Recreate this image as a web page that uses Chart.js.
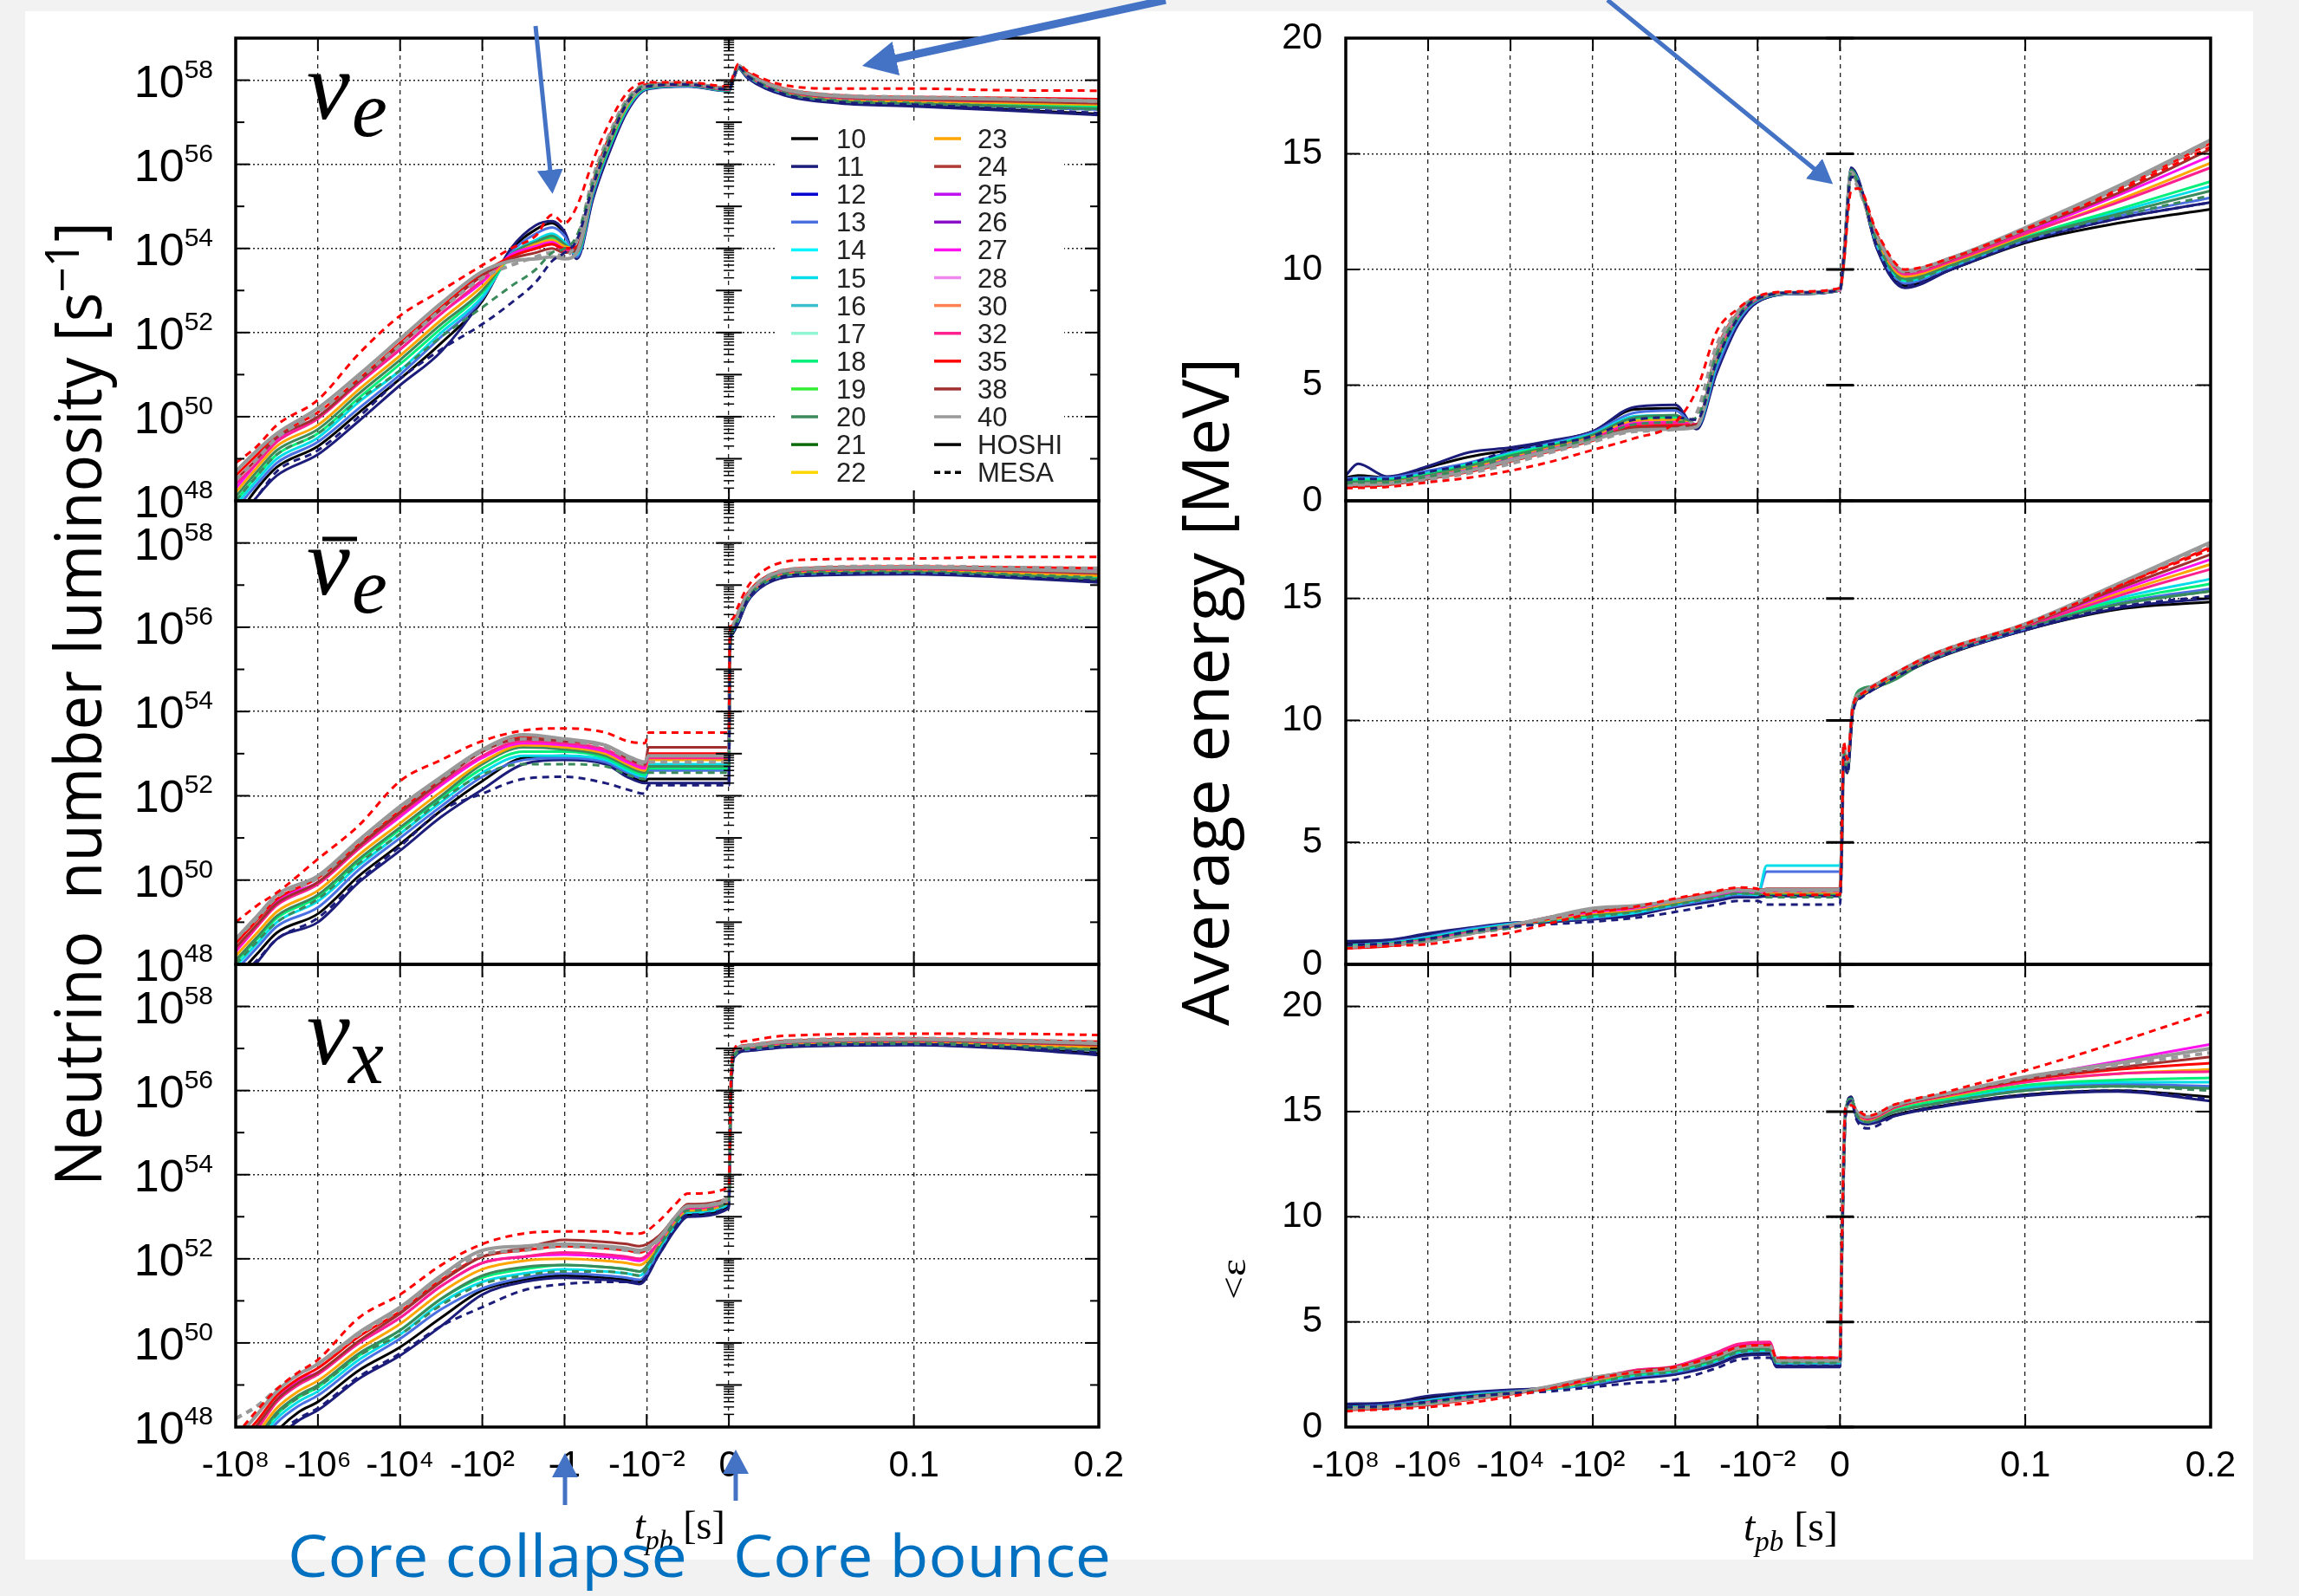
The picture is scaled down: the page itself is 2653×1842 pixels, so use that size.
<!DOCTYPE html>
<html>
<head>
<meta charset="utf-8">
<script src="https://cdn.jsdelivr.net/npm/chart.js@4.4.1/dist/chart.umd.min.js"></script>
<style>
html, body { margin: 0; padding: 0; background: #f2f2f2; overflow: hidden; }
#page { position: relative; width: 2653px; height: 1842px; overflow: hidden; }
#sheet { position: absolute; left: 29px; top: 13px; width: 2571px; height: 1787px; background: #fff; }
canvas { position: absolute; }
#ov { position: absolute; left: 0; top: 0; pointer-events: none; }
</style>
</head>
<body>
<div id="page">
  <div id="sheet"></div>
  <canvas id="c0"></canvas><canvas id="c1"></canvas><canvas id="c2"></canvas>
  <canvas id="c3"></canvas><canvas id="c4"></canvas><canvas id="c5"></canvas>
  <svg id="ov" width="2653" height="1842" xmlns="http://www.w3.org/2000/svg">
    <defs>
      <marker id="ah" markerUnits="userSpaceOnUse" markerWidth="28" markerHeight="30" refX="2" refY="15" orient="auto">
        <path d="M0,0 L28,15 L0,30 Z" fill="#4472C4"/>
      </marker>
      <marker id="ahBig" markerUnits="userSpaceOnUse" markerWidth="40" markerHeight="40" refX="2" refY="20" orient="auto">
        <path d="M0,0 L40,20 L0,40 Z" fill="#4472C4"/>
      </marker>
    </defs>
    <g id="legend"></g>

    <!-- neutrino flavour labels -->
    <g font-family="Liberation Serif, DejaVu Serif, serif" font-style="italic" fill="#000">
      <text x="354" y="137" font-size="112">ν</text>
      <text x="406" y="157" font-size="92">e</text>
      <line x1="372" y1="622" x2="412" y2="622" stroke="#000" stroke-width="5"/>
      <text x="354" y="686" font-size="112">ν</text>
      <text x="406" y="707" font-size="92">e</text>
      <text x="354" y="1228" font-size="112">ν</text>
      <text x="402" y="1250" font-size="92">x</text>
    </g>

    <!-- axis titles -->
    <text transform="translate(117,1369) rotate(-90)" font-family="Open Sans, DejaVu Sans, sans-serif" font-size="75"
          textLength="1113" lengthAdjust="spacingAndGlyphs" style="white-space:pre">Neutrino  number luminosity [s<tspan dy="-26" font-size="54">−1</tspan><tspan dy="26">]</tspan></text>
    <text transform="translate(1418,1184) rotate(-90)" font-family="Open Sans, DejaVu Sans, sans-serif" font-size="75"
          textLength="771" lengthAdjust="spacingAndGlyphs">Average energy [MeV]</text>
    <text transform="translate(1437,1500) rotate(-90)" font-family="Liberation Serif, serif" font-size="40"
          textLength="47" lengthAdjust="spacingAndGlyphs">&lt;ε</text>

    <g font-family="Liberation Serif, Times New Roman, serif" fill="#000">
      <text x="732" y="1776" font-size="46"><tspan font-style="italic">t</tspan><tspan font-style="italic" font-size="32" dy="12">pb</tspan><tspan dy="-12"> [s]</tspan></text>
      <text x="2012" y="1778" font-size="48"><tspan font-style="italic">t</tspan><tspan font-style="italic" font-size="33" dy="12">pb</tspan><tspan dy="-12"> [s]</tspan></text>
    </g>

    <!-- annotations -->
    <g stroke="#4472C4" fill="none">
      <line x1="618" y1="30" x2="635" y2="198" stroke-width="5" marker-end="url(#ah)"/>
      <line x1="1345" y1="0" x2="1032" y2="68" stroke-width="9" marker-end="url(#ahBig)"/>
      <line x1="1855" y1="0" x2="2095" y2="196" stroke-width="5" marker-end="url(#ah)"/>
      <line x1="652" y1="1737" x2="652" y2="1703" stroke-width="5" marker-end="url(#ah)"/>
      <line x1="849" y1="1732" x2="849" y2="1699" stroke-width="5" marker-end="url(#ah)"/>
    </g>
    <g font-family="Open Sans, Noto Sans, sans-serif" font-size="68" fill="#0070C0">
      <text x="332" y="1820" textLength="461" lengthAdjust="spacingAndGlyphs">Core collapse</text>
      <text x="846" y="1820" textLength="436" lengthAdjust="spacingAndGlyphs">Core bounce</text>
    </g>
  </svg>
</div>
<script>
// ---- models and legend ----
const MODELS = [10, 11, 12, 13, 14, 15, 16, 17, 18, 19, 20, 21, 22, 23, 24, 25, 26, 27, 28, 30, 32, 35, 38, 40];
const MODEL_COLORS = ['#000000', '#1c1c7a', '#0000d0', '#4a6fe0', '#00f5ff', '#00dde8', '#3cbfcc', '#8ff5d2',
  '#00f07a', '#33ee33', '#3a8a5c', '#0a6a0a', '#ffd700', '#ffa500', '#b03a36', '#c010f0', '#8a10c8',
  '#ff10ee', '#ee88ee', '#ff8050', '#ff2090', '#ff0000', '#a03030', '#999999'];

// columns of the data tables below: t_pb [s], then these series
const SERIES_MASS = [40, 38, 35, 32, 27, 23, 20, 18, 15, 13, 11, 10, 35, 11, 20, 40];
const SERIES_CODE = ['HOSHI', 'HOSHI', 'HOSHI', 'HOSHI', 'HOSHI', 'HOSHI', 'HOSHI', 'HOSHI', 'HOSHI', 'HOSHI',
  'HOSHI', 'HOSHI', 'MESA', 'MESA', 'MESA', 'MESA'];

const X_TICKS = [-1e8, -1e6, -1e4, -1e2, -1, -1e-2, 0, 0.1, 0.2];
const X_TICK_LABELS = ['-10⁸', '-10⁶', '-10⁴', '-10²', '-1', '-10⁻²', '0', '0.1', '0.2'];
const LUM_TICKS = [48, 50, 52, 54, 56, 58];

// log10 of number luminosity [s^-1], nu_e
const LUM_NUE = [
  [-1e8, 48.7, 48.5, 48.6, 48.4, 48.3, 48.2, 48.1, 48.0, 47.9, 47.8, 47.4, 47.6, 48.9, 47.5, 48.0, 48.5],
  [-3e7, 49.2, 49.0, 49.1, 48.9, 48.9, 48.8, 48.7, 48.6, 48.5, 48.4, 48.1, 48.3, 49.3, 48.1, 48.6, 49.0],
  [-1e7, 49.6, 49.5, 49.55, 49.4, 49.45, 49.3, 49.2, 49.1, 49.0, 48.9, 48.6, 48.8, 49.8, 48.7, 49.1, 49.5],
  [-1e6, 50.2, 50.0, 50.1, 49.95, 50.0, 49.8, 49.7, 49.6, 49.5, 49.4, 49.1, 49.3, 50.4, 49.2, 49.6, 50.1],
  [-1e5, 51.0, 50.85, 50.9, 50.8, 50.8, 50.65, 50.55, 50.45, 50.35, 50.2, 49.9, 50.1, 51.5, 50.0, 50.4, 50.9],
  [-1e4, 51.85, 51.7, 51.75, 51.6, 51.6, 51.45, 51.35, 51.25, 51.1, 51.0, 50.75, 50.9, 52.4, 50.9, 51.1, 51.7],
  [-1e3, 52.7, 52.55, 52.6, 52.45, 52.45, 52.3, 52.2, 52.1, 52.0, 51.9, 51.55, 51.75, 53.0, 51.6, 51.9, 52.55],
  [-100, 53.45, 53.35, 53.4, 53.25, 53.2, 53.1, 53.0, 52.95, 52.85, 52.8, 52.8, 52.75, 53.6, 52.2, 52.6, 53.3],
  [-20, 53.7, 53.75, 53.8, 53.8, 53.85, 53.8, 53.85, 53.8, 53.85, 53.9, 54.0, 53.95, 54.0, 52.7, 53.1, 53.6],
  [-5, 53.75, 53.9, 54.0, 54.0, 54.05, 54.1, 54.15, 54.1, 54.2, 54.35, 54.55, 54.45, 54.3, 53.2, 53.5, 53.8],
  [-2, 53.8, 54.0, 54.1, 54.1, 54.15, 54.2, 54.3, 54.25, 54.35, 54.5, 54.65, 54.6, 54.8, 53.7, 53.9, 53.9],
  [-1, 53.75, 53.9, 54.0, 53.95, 54.0, 54.05, 54.1, 54.05, 54.15, 54.3, 54.4, 54.35, 54.6, 53.9, 54.0, 53.8],
  [-0.5, 53.9, 54.0, 54.05, 54.0, 54.0, 54.0, 53.9, 53.9, 53.85, 53.8, 53.75, 53.8, 55.0, 54.2, 54.3, 54.2],
  [-0.2, 55.5, 55.55, 55.6, 55.5, 55.5, 55.45, 55.4, 55.4, 55.35, 55.3, 55.2, 55.25, 56.1, 55.5, 55.6, 55.7],
  [-0.1, 56.35, 56.4, 56.45, 56.35, 56.35, 56.3, 56.25, 56.2, 56.2, 56.15, 56.05, 56.1, 56.8, 56.3, 56.4, 56.5],
  [-0.03, 57.45, 57.5, 57.5, 57.45, 57.45, 57.4, 57.4, 57.35, 57.35, 57.3, 57.25, 57.3, 57.7, 57.45, 57.5, 57.55],
  [-0.01, 57.85, 57.88, 57.9, 57.85, 57.85, 57.85, 57.82, 57.82, 57.8, 57.8, 57.78, 57.8, 57.95, 57.85, 57.88, 57.9],
  [-1e-3, 57.92, 57.93, 57.93, 57.9, 57.9, 57.9, 57.88, 57.88, 57.87, 57.86, 57.85, 57.86, 57.95, 57.9, 57.9, 57.93],
  [-1e-4, 57.8, 57.8, 57.82, 57.78, 57.78, 57.78, 57.76, 57.76, 57.75, 57.75, 57.74, 57.75, 57.85, 57.78, 57.8, 57.82],
  [0.003, 58.15, 58.15, 58.15, 58.12, 58.12, 58.12, 58.1, 58.1, 58.1, 58.1, 58.08, 58.1, 58.2, 58.12, 58.15, 58.15],
  [0.005, 58.35, 58.35, 58.35, 58.33, 58.33, 58.32, 58.3, 58.3, 58.3, 58.3, 58.28, 58.3, 58.38, 58.32, 58.33, 58.35],
  [0.01, 58.15, 58.15, 58.18, 58.12, 58.14, 58.12, 58.1, 58.1, 58.1, 58.08, 58.05, 58.07, 58.22, 58.1, 58.12, 58.16],
  [0.03, 57.78, 57.76, 57.8, 57.74, 57.76, 57.73, 57.7, 57.71, 57.7, 57.68, 57.64, 57.66, 57.88, 57.67, 57.7, 57.8],
  [0.06, 57.62, 57.6, 57.64, 57.58, 57.62, 57.56, 57.5, 57.54, 57.52, 57.5, 57.45, 57.47, 57.8, 57.48, 57.52, 57.64],
  [0.1, 57.58, 57.55, 57.6, 57.54, 57.58, 57.5, 57.45, 57.48, 57.46, 57.44, 57.38, 57.4, 57.8, 57.42, 57.46, 57.6],
  [0.15, 57.55, 57.5, 57.58, 57.5, 57.56, 57.46, 57.38, 57.43, 57.4, 57.36, 57.28, 57.3, 57.76, 57.32, 57.38, 57.56],
  [0.2, 57.5, 57.45, 57.55, 57.5, 57.55, 57.42, 57.32, 57.38, 57.35, 57.3, 57.17, 57.2, 57.75, 57.22, 57.3, 57.5]
];

// anti nu_e
const LUM_NEB = [
  [-1e8, 48.6, 48.4, 48.5, 48.35, 48.3, 48.2, 48.1, 48.05, 47.95, 47.85, 47.5, 47.7, 49.0, 47.6, 48.0, 48.6],
  [-3e7, 49.15, 48.95, 49.05, 48.9, 48.9, 48.75, 48.65, 48.6, 48.5, 48.4, 48.05, 48.25, 49.4, 48.1, 48.55, 49.1],
  [-1e7, 49.65, 49.45, 49.55, 49.4, 49.5, 49.25, 49.15, 49.1, 49.0, 48.9, 48.6, 48.75, 49.7, 48.6, 49.0, 49.6],
  [-1e6, 50.1, 49.95, 50.05, 49.9, 49.95, 49.75, 49.65, 49.6, 49.5, 49.35, 49.0, 49.2, 50.5, 49.1, 49.55, 50.05],
  [-1e5, 50.95, 50.8, 50.85, 50.75, 50.75, 50.6, 50.5, 50.45, 50.35, 50.25, 49.95, 50.1, 51.3, 50.0, 50.4, 50.9],
  [-1e4, 51.75, 51.6, 51.65, 51.55, 51.5, 51.35, 51.25, 51.2, 51.1, 51.0, 50.7, 50.85, 52.35, 50.8, 51.1, 51.7],
  [-1e3, 52.45, 52.35, 52.4, 52.3, 52.25, 52.1, 52.0, 51.95, 51.85, 51.75, 51.5, 51.65, 52.85, 51.65, 51.9, 52.4],
  [-100, 53.1, 53.05, 53.05, 52.95, 52.9, 52.8, 52.75, 52.65, 52.55, 52.45, 52.15, 52.35, 53.3, 52.05, 52.5, 53.05],
  [-10, 53.45, 53.35, 53.4, 53.3, 53.25, 53.2, 53.15, 53.05, 52.95, 52.85, 52.75, 52.9, 53.55, 52.4, 52.75, 53.35],
  [-1, 53.35, 53.3, 53.3, 53.25, 53.2, 53.15, 53.1, 53.05, 52.95, 52.9, 52.85, 52.95, 53.6, 52.45, 52.75, 53.3],
  [-0.1, 53.2, 53.2, 53.2, 53.1, 53.05, 53.0, 52.95, 52.9, 52.85, 52.8, 52.75, 52.8, 53.5, 52.3, 52.7, 53.15],
  [-0.03, 52.95, 52.9, 52.9, 52.85, 52.8, 52.75, 52.7, 52.65, 52.6, 52.55, 52.45, 52.5, 53.3, 52.15, 52.5, 52.9],
  [-0.011, 52.8, 52.75, 52.75, 52.7, 52.65, 52.6, 52.55, 52.5, 52.45, 52.4, 52.3, 52.35, 53.25, 52.05, 52.4, 52.75],
  [-0.009, 52.95, 53.15, 53.0, 52.9, 52.95, 52.85, 52.7, 52.65, 52.75, 52.6, 52.3, 52.4, 53.5, 52.25, 52.55, 52.8],
  [-1e-4, 52.95, 53.15, 53.0, 52.9, 52.95, 52.85, 52.7, 52.65, 52.75, 52.6, 52.3, 52.4, 53.5, 52.25, 52.55, 52.8],
  [0.0005, 55.6, 55.6, 55.7, 55.6, 55.6, 55.5, 55.5, 55.5, 55.5, 55.45, 55.4, 55.4, 55.9, 55.45, 55.5, 55.7],
  [0.002, 56.0, 56.0, 56.05, 56.0, 56.0, 55.95, 55.95, 55.95, 55.9, 55.9, 55.85, 55.85, 56.2, 55.9, 55.95, 56.05],
  [0.005, 56.3, 56.3, 56.35, 56.3, 56.3, 56.25, 56.2, 56.2, 56.2, 56.15, 56.1, 56.1, 56.5, 56.15, 56.2, 56.35],
  [0.01, 56.75, 56.75, 56.8, 56.72, 56.74, 56.7, 56.66, 56.68, 56.66, 56.64, 56.6, 56.62, 56.95, 56.64, 56.68, 56.78],
  [0.02, 57.17, 57.16, 57.2, 57.14, 57.16, 57.12, 57.08, 57.1, 57.08, 57.06, 57.02, 57.04, 57.38, 57.05, 57.1, 57.2],
  [0.04, 57.38, 57.36, 57.4, 57.34, 57.36, 57.32, 57.28, 57.3, 57.28, 57.26, 57.22, 57.24, 57.6, 57.25, 57.3, 57.4],
  [0.1, 57.42, 57.4, 57.44, 57.38, 57.42, 57.36, 57.32, 57.34, 57.32, 57.3, 57.26, 57.28, 57.63, 57.28, 57.32, 57.45],
  [0.15, 57.38, 57.35, 57.42, 57.34, 57.4, 57.3, 57.24, 57.28, 57.26, 57.23, 57.18, 57.2, 57.67, 57.2, 57.26, 57.42],
  [0.2, 57.32, 57.28, 57.4, 57.28, 57.36, 57.22, 57.14, 57.2, 57.18, 57.15, 57.06, 57.1, 57.67, 57.1, 57.18, 57.4]
];

// nu_x
const LUM_NUX = [
  [-1e8, 47.7, 47.5, 47.6, 47.4, 47.4, 47.3, 47.2, 47.1, 47.0, 46.9, 46.5, 46.7, 47.8, 46.6, 47.1, 48.2],
  [-3e7, 48.3, 48.05, 48.15, 47.95, 48.0, 47.85, 47.75, 47.7, 47.6, 47.5, 47.1, 47.3, 48.4, 47.2, 47.7, 48.5],
  [-1e7, 48.85, 48.65, 48.75, 48.6, 48.65, 48.45, 48.35, 48.3, 48.2, 48.1, 47.7, 47.9, 48.9, 47.8, 48.3, 48.9],
  [-3e6, 49.25, 49.05, 49.15, 49.0, 49.1, 48.85, 48.75, 48.7, 48.6, 48.5, 48.15, 48.35, 49.3, 48.2, 48.7, 49.25],
  [-1e6, 49.5, 49.3, 49.4, 49.25, 49.3, 49.1, 49.0, 48.95, 48.85, 48.75, 48.4, 48.6, 49.6, 48.45, 48.95, 49.5],
  [-1e5, 50.25, 50.05, 50.15, 50.0, 50.0, 49.85, 49.75, 49.7, 49.6, 49.5, 49.15, 49.35, 50.6, 49.2, 49.7, 50.2],
  [-1e4, 50.85, 50.7, 50.75, 50.6, 50.6, 50.45, 50.3, 50.3, 50.2, 50.1, 49.7, 49.9, 51.15, 49.75, 50.2, 50.8],
  [-1e3, 51.6, 51.45, 51.5, 51.35, 51.35, 51.2, 51.05, 51.05, 50.95, 50.8, 50.4, 50.6, 51.85, 50.4, 50.9, 51.55],
  [-100, 52.2, 52.05, 52.05, 51.9, 51.9, 51.75, 51.6, 51.55, 51.45, 51.3, 51.15, 51.25, 52.35, 50.85, 51.4, 52.1],
  [-10, 52.3, 52.25, 52.2, 52.05, 52.05, 51.95, 51.8, 51.75, 51.65, 51.55, 51.45, 51.5, 52.6, 51.25, 51.6, 52.2],
  [-1, 52.35, 52.45, 52.3, 52.15, 52.1, 52.0, 51.85, 51.85, 51.75, 51.65, 51.55, 51.6, 52.65, 51.4, 51.7, 52.3],
  [-0.1, 52.3, 52.4, 52.25, 52.1, 52.05, 51.95, 51.8, 51.8, 51.7, 51.6, 51.5, 51.55, 52.65, 51.45, 51.7, 52.25],
  [-0.03, 52.25, 52.35, 52.2, 52.05, 52.0, 51.9, 51.75, 51.75, 51.65, 51.55, 51.45, 51.5, 52.6, 51.45, 51.65, 52.2],
  [-0.015, 52.2, 52.3, 52.15, 52.0, 51.95, 51.85, 51.7, 51.7, 51.6, 51.5, 51.4, 51.45, 52.6, 51.45, 51.6, 52.15],
  [-0.005, 52.5, 52.55, 52.5, 52.4, 52.4, 52.35, 52.3, 52.3, 52.25, 52.2, 52.1, 52.15, 52.9, 52.1, 52.3, 52.45],
  [-0.002, 53.0, 53.0, 53.0, 52.95, 52.95, 52.9, 52.85, 52.85, 52.8, 52.8, 52.7, 52.75, 53.3, 52.75, 52.9, 53.0],
  [-1e-3, 53.25, 53.3, 53.25, 53.2, 53.2, 53.15, 53.15, 53.15, 53.1, 53.1, 53.0, 53.05, 53.55, 53.05, 53.15, 53.25],
  [-1e-4, 53.4, 53.45, 53.45, 53.4, 53.4, 53.35, 53.35, 53.35, 53.3, 53.3, 53.2, 53.25, 53.7, 53.25, 53.35, 53.45],
  [0.001, 55.9, 55.9, 55.95, 55.85, 55.9, 55.85, 55.8, 55.8, 55.8, 55.75, 55.7, 55.75, 56.1, 55.75, 55.8, 55.95],
  [0.003, 56.9, 56.9, 56.92, 56.88, 56.9, 56.86, 56.84, 56.85, 56.84, 56.83, 56.8, 56.82, 57.0, 56.82, 56.85, 56.92],
  [0.01, 57.06, 57.05, 57.08, 57.03, 57.05, 57.02, 56.99, 57.0, 56.99, 56.97, 56.94, 56.96, 57.18, 56.96, 57.0, 57.08],
  [0.03, 57.16, 57.15, 57.18, 57.13, 57.15, 57.11, 57.08, 57.1, 57.08, 57.06, 57.03, 57.05, 57.3, 57.05, 57.08, 57.18],
  [0.1, 57.22, 57.2, 57.24, 57.18, 57.22, 57.16, 57.12, 57.15, 57.13, 57.11, 57.08, 57.1, 57.35, 57.1, 57.13, 57.24],
  [0.15, 57.18, 57.15, 57.2, 57.14, 57.18, 57.1, 57.05, 57.08, 57.07, 57.05, 57.0, 57.02, 57.35, 57.03, 57.07, 57.2],
  [0.2, 57.12, 57.08, 57.16, 57.08, 57.14, 57.03, 56.96, 57.0, 56.98, 56.95, 56.84, 56.88, 57.32, 56.9, 56.97, 57.15]
];

// average energy [MeV], nu_e
const EN_NUE = [
  [-1e8, 0.7, 0.65, 0.6, 0.65, 0.7, 0.7, 0.8, 0.85, 0.9, 0.95, 1.1, 1.0, 0.55, 0.9, 0.75, 0.6],
  [-5e7, 0.72, 0.68, 0.62, 0.68, 0.72, 0.72, 0.82, 0.88, 0.95, 1.0, 1.6, 1.1, 0.56, 0.95, 0.8, 0.62],
  [-1e7, 0.75, 0.72, 0.68, 0.72, 0.75, 0.78, 0.85, 0.9, 0.95, 1.0, 1.05, 1.0, 0.6, 0.95, 0.8, 0.65],
  [-1e6, 1.0, 0.95, 0.95, 1.0, 1.05, 1.05, 1.1, 1.15, 1.2, 1.3, 1.5, 1.45, 0.8, 1.25, 1.05, 0.9],
  [-1e5, 1.3, 1.3, 1.25, 1.3, 1.35, 1.4, 1.5, 1.55, 1.6, 1.65, 2.1, 1.9, 1.0, 1.6, 1.4, 1.2],
  [-1e4, 1.75, 1.75, 1.7, 1.75, 1.8, 1.85, 1.95, 2.0, 2.05, 2.1, 2.3, 2.2, 1.3, 2.2, 1.9, 1.6],
  [-1e3, 2.2, 2.2, 2.15, 2.2, 2.25, 2.3, 2.35, 2.4, 2.45, 2.5, 2.6, 2.55, 1.7, 2.45, 2.3, 2.1],
  [-100, 2.65, 2.65, 2.6, 2.7, 2.7, 2.75, 2.85, 2.85, 2.9, 2.95, 3.0, 3.0, 2.2, 2.8, 2.7, 2.55],
  [-10, 3.05, 3.15, 3.2, 3.3, 3.35, 3.45, 3.6, 3.55, 3.65, 3.8, 4.05, 3.95, 2.7, 3.5, 3.3, 3.0],
  [-1, 3.1, 3.2, 3.25, 3.35, 3.4, 3.5, 3.7, 3.6, 3.7, 3.9, 4.15, 4.0, 3.4, 3.6, 3.4, 3.1],
  [-0.3, 3.2, 3.3, 3.3, 3.3, 3.3, 3.3, 3.3, 3.3, 3.2, 3.2, 3.1, 3.15, 4.8, 3.5, 3.6, 3.8],
  [-0.1, 6.4, 6.4, 6.5, 6.3, 6.3, 6.2, 6.0, 6.0, 5.9, 5.7, 5.5, 5.6, 7.3, 6.0, 6.3, 6.7],
  [-0.03, 8.1, 8.1, 8.15, 8.05, 8.0, 8.0, 7.9, 7.9, 7.85, 7.75, 7.6, 7.65, 8.3, 7.9, 8.0, 8.2],
  [-0.01, 8.8, 8.8, 8.8, 8.75, 8.75, 8.75, 8.7, 8.7, 8.7, 8.65, 8.6, 8.6, 8.85, 8.75, 8.8, 8.8],
  [-1e-3, 9.0, 9.0, 9.0, 9.0, 9.0, 9.0, 8.98, 8.98, 8.97, 8.96, 8.95, 8.95, 9.05, 9.0, 9.0, 9.0],
  [-1e-4, 9.15, 9.15, 9.15, 9.1, 9.1, 9.1, 9.1, 9.1, 9.1, 9.1, 9.1, 9.1, 9.2, 9.1, 9.1, 9.15],
  [0.002, 10.4, 10.4, 10.3, 10.4, 10.4, 10.4, 10.5, 10.5, 10.5, 10.5, 10.6, 10.5, 10.2, 10.5, 10.4, 10.3],
  [0.006, 14.2, 14.2, 14.1, 14.2, 14.2, 14.2, 14.3, 14.3, 14.3, 14.3, 14.4, 14.3, 13.4, 14.0, 14.2, 14.0],
  [0.01, 13.6, 13.6, 13.7, 13.6, 13.6, 13.6, 13.7, 13.7, 13.8, 13.8, 13.9, 13.8, 13.5, 13.8, 13.7, 13.5],
  [0.02, 11.4, 11.4, 11.5, 11.4, 11.4, 11.3, 11.2, 11.2, 11.1, 11.0, 10.9, 10.9, 11.6, 11.0, 11.2, 11.4],
  [0.035, 9.95, 9.9, 9.95, 9.8, 9.8, 9.7, 9.6, 9.55, 9.5, 9.4, 9.2, 9.3, 10.0, 9.3, 9.5, 9.9],
  [0.06, 10.5, 10.45, 10.5, 10.35, 10.4, 10.3, 10.2, 10.2, 10.15, 10.1, 10.0, 10.0, 10.5, 10.0, 10.15, 10.5],
  [0.1, 11.8, 11.7, 11.75, 11.55, 11.6, 11.5, 11.35, 11.4, 11.35, 11.25, 11.2, 11.15, 11.75, 11.2, 11.3, 11.75],
  [0.15, 13.6, 13.3, 13.5, 12.9, 13.2, 13.0, 12.4, 12.6, 12.5, 12.3, 12.2, 12.0, 13.4, 12.2, 12.3, 13.5],
  [0.2, 15.6, 15.2, 15.45, 14.4, 14.9, 14.6, 13.4, 13.8, 13.6, 13.1, 12.9, 12.6, 15.3, 12.9, 13.2, 15.5]
];

// anti nu_e
const EN_NEB = [
  [-1e8, 0.7, 0.7, 0.65, 0.7, 0.7, 0.7, 0.7, 0.75, 0.75, 0.8, 0.95, 0.85, 0.65, 0.8, 0.7, 0.7],
  [-1e7, 0.8, 0.8, 0.75, 0.8, 0.8, 0.8, 0.82, 0.85, 0.85, 0.9, 1.0, 0.95, 0.75, 0.85, 0.8, 0.8],
  [-1e6, 0.95, 0.95, 0.95, 1.0, 1.0, 1.0, 1.05, 1.05, 1.1, 1.15, 1.27, 1.2, 0.83, 1.05, 1.0, 0.95],
  [-1e5, 1.25, 1.25, 1.25, 1.3, 1.3, 1.3, 1.35, 1.35, 1.4, 1.45, 1.5, 1.45, 1.05, 1.35, 1.3, 1.25],
  [-1e4, 1.6, 1.6, 1.55, 1.6, 1.6, 1.6, 1.6, 1.6, 1.65, 1.65, 1.7, 1.65, 1.3, 1.55, 1.5, 1.5],
  [-1e3, 1.95, 1.95, 1.9, 1.95, 1.9, 1.85, 1.85, 1.85, 1.8, 1.8, 1.75, 1.75, 1.7, 1.65, 1.75, 1.85],
  [-100, 2.3, 2.25, 2.2, 2.2, 2.15, 2.1, 2.05, 2.0, 1.95, 1.9, 1.85, 1.9, 2.1, 1.75, 1.95, 2.2],
  [-10, 2.4, 2.35, 2.35, 2.35, 2.3, 2.25, 2.2, 2.2, 2.1, 2.1, 2.0, 2.05, 2.35, 1.9, 2.15, 2.35],
  [-1, 2.6, 2.6, 2.65, 2.6, 2.6, 2.55, 2.5, 2.5, 2.45, 2.4, 2.35, 2.4, 2.7, 2.15, 2.45, 2.6],
  [-0.1, 2.9, 2.9, 2.95, 2.9, 2.85, 2.85, 2.8, 2.8, 2.75, 2.7, 2.6, 2.65, 3.0, 2.45, 2.75, 2.9],
  [-0.03, 3.05, 3.05, 3.1, 3.05, 3.0, 3.0, 2.95, 2.95, 2.9, 2.85, 2.75, 2.8, 3.15, 2.6, 2.9, 3.05],
  [-0.01, 3.0, 3.0, 3.05, 3.0, 2.95, 2.95, 2.9, 2.9, 2.85, 2.85, 2.75, 2.8, 3.1, 2.6, 2.9, 3.0],
  [-0.006, 3.05, 3.1, 3.05, 3.0, 3.0, 2.95, 2.9, 2.9, 4.05, 3.8, 2.8, 2.85, 2.85, 2.45, 2.75, 3.0],
  [-1e-4, 3.05, 3.1, 3.05, 3.0, 3.0, 2.95, 2.9, 2.9, 4.05, 3.8, 2.8, 2.85, 2.85, 2.45, 2.75, 3.0],
  [0.001, 5.2, 5.1, 5.3, 5.0, 5.1, 5.0, 4.9, 4.9, 5.2, 5.0, 4.8, 4.8, 5.5, 4.7, 4.9, 5.1],
  [0.002, 8.9, 8.8, 9.0, 8.8, 8.8, 8.7, 8.7, 8.7, 8.8, 8.7, 8.6, 8.6, 9.1, 8.5, 8.7, 8.9],
  [0.004, 8.1, 8.0, 8.2, 8.0, 8.0, 7.95, 7.9, 7.9, 8.0, 7.9, 7.85, 7.85, 8.4, 7.8, 7.9, 8.1],
  [0.007, 10.6, 10.5, 10.6, 10.5, 10.5, 10.45, 10.5, 10.55, 10.6, 10.5, 10.4, 10.4, 10.6, 10.35, 10.45, 10.6],
  [0.012, 11.15, 11.1, 11.15, 11.1, 11.1, 11.05, 11.3, 11.3, 11.2, 11.1, 11.0, 11.0, 11.1, 10.95, 11.05, 11.15],
  [0.02, 11.5, 11.45, 11.5, 11.45, 11.45, 11.4, 11.4, 11.42, 11.4, 11.38, 11.35, 11.35, 11.5, 11.35, 11.4, 11.5],
  [0.05, 12.7, 12.65, 12.7, 12.6, 12.65, 12.6, 12.55, 12.58, 12.55, 12.52, 12.5, 12.48, 12.7, 12.5, 12.55, 12.7],
  [0.1, 13.95, 13.9, 13.95, 13.85, 13.9, 13.85, 13.8, 13.85, 13.8, 13.75, 13.7, 13.7, 13.95, 13.75, 13.8, 13.95],
  [0.15, 15.6, 15.4, 15.5, 15.1, 15.3, 15.2, 14.75, 14.9, 15.0, 14.8, 14.6, 14.55, 15.5, 14.65, 14.75, 15.55],
  [0.2, 17.3, 16.8, 17.1, 16.2, 16.6, 16.4, 15.3, 15.6, 15.8, 15.4, 15.0, 14.85, 17.0, 15.1, 15.3, 17.2]
];

// nu_x
const EN_NUX = [
  [-1e8, 0.85, 0.85, 0.8, 0.85, 0.85, 0.9, 0.9, 0.9, 0.95, 0.95, 1.1, 1.05, 0.75, 0.95, 0.85, 0.85],
  [-1e7, 0.95, 0.95, 0.9, 0.95, 0.95, 0.95, 1.0, 1.0, 1.0, 1.05, 1.15, 1.1, 0.85, 1.0, 0.95, 0.95],
  [-1e6, 1.1, 1.1, 1.05, 1.1, 1.15, 1.15, 1.2, 1.2, 1.25, 1.3, 1.47, 1.4, 0.95, 1.2, 1.15, 1.1],
  [-1e5, 1.35, 1.35, 1.3, 1.35, 1.4, 1.4, 1.45, 1.45, 1.5, 1.55, 1.65, 1.6, 1.15, 1.45, 1.4, 1.35],
  [-1e4, 1.6, 1.6, 1.55, 1.6, 1.6, 1.6, 1.65, 1.65, 1.65, 1.7, 1.77, 1.75, 1.45, 1.6, 1.6, 1.6],
  [-1e3, 1.95, 1.95, 1.9, 1.9, 1.9, 1.85, 1.85, 1.85, 1.8, 1.8, 1.85, 1.85, 1.85, 1.7, 1.8, 1.9],
  [-100, 2.35, 2.35, 2.3, 2.3, 2.25, 2.2, 2.2, 2.15, 2.1, 2.05, 2.0, 2.05, 2.3, 1.9, 2.1, 2.3],
  [-10, 2.6, 2.65, 2.65, 2.7, 2.65, 2.6, 2.55, 2.5, 2.45, 2.4, 2.3, 2.35, 2.6, 2.1, 2.45, 2.6],
  [-1, 2.8, 2.85, 2.85, 2.9, 2.85, 2.8, 2.75, 2.7, 2.65, 2.6, 2.5, 2.55, 2.85, 2.25, 2.65, 2.8],
  [-0.1, 3.35, 3.4, 3.4, 3.55, 3.45, 3.35, 3.25, 3.2, 3.15, 3.1, 2.95, 3.0, 3.4, 2.8, 3.15, 3.35],
  [-0.03, 3.75, 3.75, 3.8, 3.95, 3.85, 3.75, 3.65, 3.6, 3.55, 3.5, 3.35, 3.4, 3.8, 3.2, 3.55, 3.75],
  [-0.005, 3.85, 3.85, 3.9, 4.05, 3.95, 3.85, 3.75, 3.7, 3.65, 3.6, 3.45, 3.5, 3.9, 3.3, 3.65, 3.85],
  [-0.0035, 3.15, 3.2, 3.25, 3.3, 3.25, 3.2, 3.1, 3.1, 3.05, 3.0, 2.85, 2.9, 3.3, 2.9, 3.05, 3.15],
  [-1e-4, 3.15, 3.2, 3.25, 3.3, 3.25, 3.2, 3.1, 3.1, 3.05, 3.0, 2.85, 2.9, 3.3, 2.9, 3.05, 3.15],
  [0.001, 8.5, 8.4, 8.6, 8.4, 8.5, 8.3, 8.2, 8.2, 8.2, 8.1, 8.0, 8.0, 8.8, 8.0, 8.2, 8.5],
  [0.003, 15.1, 15.0, 15.1, 15.0, 15.1, 15.0, 14.9, 14.95, 14.95, 14.9, 14.85, 14.85, 15.2, 14.8, 14.9, 15.1],
  [0.006, 15.5, 15.5, 15.4, 15.5, 15.5, 15.5, 15.6, 15.6, 15.6, 15.6, 15.7, 15.7, 15.3, 15.5, 15.6, 15.4],
  [0.009, 15.0, 15.0, 15.0, 14.95, 15.0, 14.9, 14.85, 14.9, 14.85, 14.8, 14.7, 14.75, 15.1, 14.6, 14.85, 15.0],
  [0.015, 14.75, 14.7, 14.75, 14.65, 14.7, 14.6, 14.55, 14.6, 14.55, 14.5, 14.4, 14.45, 14.8, 14.2, 14.5, 14.75],
  [0.03, 15.3, 15.25, 15.25, 15.2, 15.3, 15.2, 15.0, 15.1, 15.05, 15.0, 14.8, 14.85, 15.35, 14.8, 15.0, 15.3],
  [0.06, 15.9, 15.85, 15.85, 15.8, 15.9, 15.75, 15.5, 15.65, 15.6, 15.5, 15.3, 15.35, 16.0, 15.35, 15.5, 15.9],
  [0.1, 16.65, 16.55, 16.5, 16.4, 16.6, 16.4, 16.0, 16.25, 16.15, 16.05, 15.75, 15.8, 16.95, 15.8, 16.0, 16.6],
  [0.15, 17.3, 17.1, 17.0, 16.8, 17.4, 16.8, 16.2, 16.5, 16.4, 16.3, 15.95, 16.0, 18.3, 16.0, 16.2, 17.2],
  [0.2, 18.0, 17.6, 17.3, 16.9, 18.2, 17.0, 16.1, 16.6, 16.4, 16.2, 15.5, 15.7, 19.75, 15.6, 16.0, 17.8]
];

// ---- custom t_pb axis: log in -t up to -1e-2 (two decades per unit), 0 after one more unit, then linear to 0.2 ----
const NEG_UNITS = 6, POS_UNITS = 4.5, T_MAX = 0.2, LOG_T_MIN = 8;
function tpbToUnit(t) {
  if (t >= 0) return NEG_UNITS + t / T_MAX * POS_UNITS;
  return Math.min(NEG_UNITS, (LOG_T_MIN - Math.log10(-t)) / 2);
}
function unitToTpb(u) {
  return u >= NEG_UNITS ? (u - NEG_UNITS) / POS_UNITS * T_MAX : -Math.pow(10, LOG_T_MIN - 2 * u);
}

class TpbScale extends Chart.Scale {
  determineDataLimits() { this.min = X_TICKS[0]; this.max = X_TICKS[X_TICKS.length - 1]; }
  buildTicks() { return X_TICKS.map(v => ({ value: v })); }
  getLabelForValue(v) { return String(v); }
  getPixelForValue(v) { return this.getPixelForDecimal(tpbToUnit(v) / (NEG_UNITS + POS_UNITS)); }
  getPixelForTick(i) { return this.getPixelForValue(this.ticks[i].value); }
  getValueForPixel(p) { return unitToTpb(this.getDecimalForPixel(p) * (NEG_UNITS + POS_UNITS)); }
}
TpbScale.id = 'tpb';
TpbScale.defaults = {};
Chart.register(TpbScale);

Chart.defaults.font.family = "'Liberation Sans', Arial, sans-serif";
Chart.defaults.color = '#000';

// ---- layout ----
const COL_X = [[272, 1268], [1553, 2551]];
const ROW_Y = [[44, 578], [578, 1113], [1113, 1647]];
const YW = 200, PAD = 70;

const PANELS = [
  { canvas: 'c0', rows: LUM_NUE, col: 0, row: 0, lum: true, yMax: 59, yTicks: LUM_TICKS },
  { canvas: 'c1', rows: LUM_NEB, col: 0, row: 1, lum: true, yMax: 59, yTicks: LUM_TICKS },
  { canvas: 'c2', rows: LUM_NUX, col: 0, row: 2, lum: true, yMax: 59, yTicks: LUM_TICKS },
  { canvas: 'c3', rows: EN_NUE, col: 1, row: 0, lum: false, yMax: 20, yTicks: [0, 5, 10, 15, 20] },
  { canvas: 'c4', rows: EN_NEB, col: 1, row: 1, lum: false, yMax: 19, yTicks: [0, 5, 10, 15] },
  { canvas: 'c5', rows: EN_NUX, col: 1, row: 2, lum: false, yMax: 22, yTicks: [0, 5, 10, 15, 20] }
];

// frame, inward tick marks, and the "10^n" labels of the luminosity axes
function framePlugin(p) {
  return {
    id: 'frame',
    afterDatasetsDraw(chart) {
      const { ctx, chartArea: a } = chart;
      const xs = chart.scales.x, ys = chart.scales.y;
      const xz = xs.getPixelForValue(0);
      const seg = (x1, y1, x2, y2, w) => {
        ctx.lineWidth = w; ctx.beginPath(); ctx.moveTo(x1, y1); ctx.lineTo(x2, y2); ctx.stroke();
      };
      ctx.save();
      ctx.strokeStyle = '#000';
      X_TICKS.forEach(v => {
        const px = xs.getPixelForValue(v);
        seg(px, a.bottom, px, a.bottom - 15, 2);
        seg(px, a.top, px, a.top + 15, 2);
      });
      if (p.lum) {
        for (let d = 48; d <= 58; d++) {
          const py = ys.getPixelForValue(d);
          const len = d % 2 === 0 ? 16 : 10;
          seg(a.left, py, a.left + len, py, 2);
          seg(a.right, py, a.right - len, py, 2);
          seg(xz - 15, py, xz + 15, py, 2);
          for (let k = 2; k <= 9; k++) {
            const pm = ys.getPixelForValue(d + Math.log10(k));
            seg(xz - 6, pm, xz + 6, pm, 1.5);
          }
        }
      } else {
        p.yTicks.forEach(v => {
          const py = ys.getPixelForValue(v);
          seg(a.left, py, a.left + 16, py, 2);
          seg(a.right, py, a.right - 16, py, 2);
          seg(xz - 16, py, xz + 16, py, 3);
        });
      }
      ctx.lineWidth = 3.5;
      ctx.strokeRect(a.left, a.top, a.right - a.left, a.bottom - a.top);
      ctx.restore();
    },
    afterDraw(chart) {
      if (!p.lum) return;
      const { ctx, chartArea: a } = chart;
      const ys = chart.scales.y;
      const baseFont = "52px 'Liberation Sans Narrow', 'Liberation Sans', sans-serif";
      const expFont = "30px 'Liberation Sans', sans-serif";
      ctx.save();
      ctx.fillStyle = '#000';
      ctx.textBaseline = 'alphabetic';
      ctx.textAlign = 'left';
      p.yTicks.forEach(v => {
        const py = ys.getPixelForValue(v);
        const exp = String(v);
        ctx.font = expFont;
        const ew = ctx.measureText(exp).width;
        ctx.font = baseFont;
        const bw = ctx.measureText('10').width;
        const right = a.left - 26;
        ctx.fillText('10', right - ew - bw, py + 19);
        ctx.font = expFont;
        ctx.fillText(exp, right - ew, py - 3);
      });
      ctx.restore();
    }
  };
}

function buildPanel(p) {
  const [x0, x1] = COL_X[p.col];
  const [y0, y1] = ROW_Y[p.row];
  const bottom = p.row === 2;
  const XH = bottom ? 110 : PAD;
  const cv = document.getElementById(p.canvas);
  cv.width = YW + (x1 - x0) + PAD;
  cv.height = PAD + (y1 - y0) + XH;
  cv.style.left = (x0 - YW) + 'px';
  cv.style.top = (y0 - PAD) + 'px';

  const datasets = SERIES_MASS.map((m, j) => {
    const mesa = SERIES_CODE[j] === 'MESA';
    return {
      label: m + ' ' + SERIES_CODE[j],
      data: p.rows.map(r => ({ x: r[0], y: r[j + 1] })),
      borderColor: MODEL_COLORS[MODELS.indexOf(m)],
      borderWidth: m === 40 ? 4 : 3,
      borderDash: mesa ? [8, 6] : [],
      pointRadius: 0,
      cubicInterpolationMode: 'monotone',
      fill: false,
      order: mesa ? 0 : 1
    };
  });

  new Chart(cv, {
    type: 'line',
    data: { datasets },
    options: {
      responsive: false,
      animation: false,
      events: [],
      layout: { padding: { left: 0, top: PAD, right: PAD, bottom: 0 } },
      plugins: { legend: { display: false }, tooltip: { enabled: false } },
      scales: {
        x: {
          type: 'tpb',
          position: 'bottom',
          afterFit: s => { s.height = XH; },
          grid: { color: '#222', lineWidth: 1.3, drawTicks: false },
          border: { display: false, dash: [5, 5] },
          ticks: {
            display: bottom,
            autoSkip: false, maxRotation: 0, minRotation: 0,
            padding: 20,
            font: { size: 42 },
            callback: (v, i) => X_TICK_LABELS[i]
          }
        },
        y: {
          type: 'linear',
          position: 'left',
          bounds: 'data',
          min: p.lum ? 48 : 0,
          max: p.yMax,
          afterFit: s => { s.width = YW; },
          afterBuildTicks: s => { s.ticks = p.yTicks.map(v => ({ value: v })); },
          grid: { color: '#222', lineWidth: 1.4, drawTicks: false },
          border: { display: false, dash: [2, 3] },
          ticks: {
            display: !p.lum,
            autoSkip: false,
            padding: 27,
            font: { size: 42 },
            callback: v => String(v)
          }
        }
      }
    },
    plugins: [framePlugin(p)]
  });
}

PANELS.forEach(buildPanel);

// ---- legend inside the nu_e luminosity panel ----
const SVG_NS = 'http://www.w3.org/2000/svg';
function svgEl(parent, tag, attrs, text) {
  const el = document.createElementNS(SVG_NS, tag);
  Object.keys(attrs).forEach(k => el.setAttribute(k, attrs[k]));
  if (text !== undefined) el.textContent = text;
  parent.appendChild(el);
  return el;
}
const leg = document.getElementById('legend');
svgEl(leg, 'rect', { x: 895, y: 140, width: 333, height: 426, fill: '#fff' });
const LEG_COLS = [{ lx: 913, tx: 965 }, { lx: 1078, tx: 1128 }];
const legendItems = MODELS.map((m, i) => ({ label: String(m), color: MODEL_COLORS[i], dash: null }))
  .concat([{ label: 'HOSHI', color: '#000', dash: null }, { label: 'MESA', color: '#000', dash: '7,5' }]);
legendItems.forEach((it, i) => {
  const c = LEG_COLS[i < 13 ? 0 : 1];
  const yc = 160 + 32.1 * (i % 13);
  const ln = svgEl(leg, 'line', { x1: c.lx, y1: yc, x2: c.lx + 31, y2: yc, stroke: it.color, 'stroke-width': 3.5 });
  if (it.dash) ln.setAttribute('stroke-dasharray', it.dash);
  svgEl(leg, 'text', { x: c.tx, y: yc + 11, 'font-family': 'Liberation Sans, Arial, sans-serif', 'font-size': 31, fill: '#222' }, it.label);
});
</script>
</body>
</html>
